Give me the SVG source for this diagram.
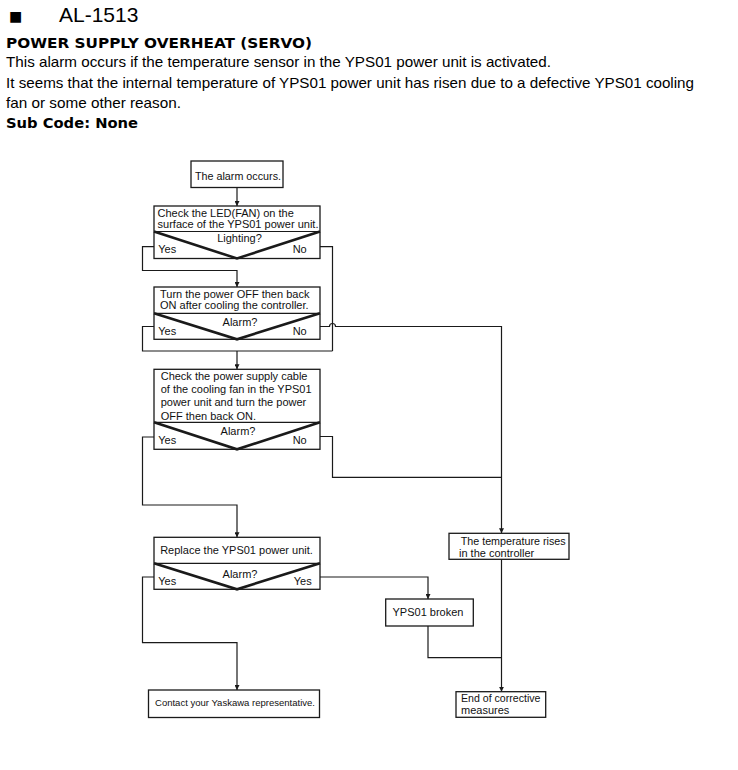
<svg xmlns="http://www.w3.org/2000/svg" width="738" height="770" viewBox="0 0 738 770">
<style>
.box{fill:#fff;stroke:#1a1a1a;stroke-width:1.3}
.v{fill:none;stroke:#1a1a1a;stroke-width:2.6;stroke-linejoin:miter}
.dv{stroke:#1a1a1a;stroke-width:1.2}
.c{fill:none;stroke:#1a1a1a;stroke-width:1.2}
.t{font-family:"Liberation Sans",Arial,sans-serif;font-size:11px;fill:#111}
.m{text-anchor:middle}
.e{text-anchor:end}
.h{font-family:"Liberation Sans",Arial,sans-serif;font-size:15px;fill:#000}
.b{font-family:"DejaVu Sans",sans-serif;font-weight:bold;font-size:14px;fill:#000}
</style>
<defs>
<marker id="ah" viewBox="0 0 6 6" refX="6" refY="3" markerWidth="5" markerHeight="5" markerUnits="userSpaceOnUse" orient="auto">
<path d="M0,0 L6,3 L0,6 z" fill="#1a1a1a"/>
</marker>
</defs>

<g id="header">
<text x="9" y="21" style="font-family:'DejaVu Sans',sans-serif;font-size:14px">■</text>
<text x="59" y="21.7" style="font-family:'Liberation Sans',Arial,sans-serif;font-size:21px">AL-1513</text>
<text x="6" y="47.7" class="b" textLength="306" lengthAdjust="spacingAndGlyphs">POWER SUPPLY OVERHEAT (SERVO)</text>
<text x="6" y="67" class="h" textLength="545" lengthAdjust="spacingAndGlyphs">This alarm occurs if the temperature sensor in the YPS01 power unit is activated.</text>
<text x="6" y="87.5" class="h" textLength="688" lengthAdjust="spacingAndGlyphs">It seems that the internal temperature of YPS01 power unit has risen due to a defective YPS01 cooling</text>
<text x="6" y="108" class="h" textLength="175" lengthAdjust="spacingAndGlyphs">fan or some other reason.</text>
<text x="6" y="127.7" class="b" textLength="132" lengthAdjust="spacingAndGlyphs">Sub Code: None</text>
</g>

<g id="connectors">
<path class="c" d="M237,187 V206" marker-end="url(#ah)"/>
<path class="c" d="M154,246.7 H142.5 V270.5 H237 V287" marker-end="url(#ah)"/>
<path class="c" d="M320,246.7 H332.5 V351"/>
<path class="c" d="M154,326.5 H142.5 V351 H332.5"/>
<path class="c" d="M237,351 V369.3" marker-end="url(#ah)"/>
<path class="c" d="M320,326.5 H329.5 A3,3 0 0 1 335.5,326.5 H501.5 V533.3" marker-end="url(#ah)"/>
<path class="c" d="M154,437 H142.5 V505 H237 V537.3" marker-end="url(#ah)"/>
<path class="c" d="M320,436.5 H332.5 V477.3 H501.5"/>
<path class="c" d="M154,577 H142.5 V642.7 H237 V690" marker-end="url(#ah)"/>
<path class="c" d="M320,577 H428 V599" marker-end="url(#ah)"/>
<path class="c" d="M428,626 V657.7 H501.5"/>
<path class="c" d="M501.5,559.3 V691.7" marker-end="url(#ah)"/>
</g>

<g id="n1">
<rect class="box" x="191" y="161" width="92" height="26.5"/>
<text class="t" x="195" y="180" textLength="86" lengthAdjust="spacingAndGlyphs">The alarm occurs.</text>
</g>

<g id="n2">
<rect class="box" x="154" y="206" width="166" height="52.5"/>
<line class="dv" x1="154" y1="231.5" x2="320" y2="231.5"/>
<path class="v" d="M154,231.5 L237,258.5 L320,231.5"/>
<text class="t" x="157.5" y="217.3">Check the LED(FAN) on the</text>
<text class="t" x="157.5" y="228.3" textLength="161" lengthAdjust="spacingAndGlyphs">surface of the YPS01 power unit.</text>
<text class="t m" x="239.5" y="241.5">Lighting?</text>
<text class="t" x="158.3" y="253.3">Yes</text>
<text class="t e" x="306.7" y="253.3">No</text>
</g>

<g id="n3">
<rect class="box" x="154" y="287" width="166" height="52.3"/>
<line class="dv" x1="154" y1="313.3" x2="320" y2="313.3"/>
<path class="v" d="M154,313.3 L237,339.3 L320,313.3"/>
<text class="t" x="160" y="298.3">Turn the power OFF then back</text>
<text class="t" x="160" y="309.3">ON after cooling the controller.</text>
<text class="t m" x="240" y="326">Alarm?</text>
<text class="t" x="158.3" y="335">Yes</text>
<text class="t e" x="306.7" y="335">No</text>
</g>

<g id="n4">
<rect class="box" x="154" y="369.3" width="166" height="80"/>
<line class="dv" x1="154" y1="422.3" x2="320" y2="422.3"/>
<path class="v" d="M154,422.3 L237,449.3 L320,422.3"/>
<text class="t" x="160.7" y="380.2">Check the power supply cable</text>
<text class="t" x="160.7" y="393.3">of the cooling fan in the YPS01</text>
<text class="t" x="160.7" y="406.4">power unit and turn the power</text>
<text class="t" x="160.7" y="419.5">OFF then back ON.</text>
<text class="t m" x="238" y="435">Alarm?</text>
<text class="t" x="158.3" y="444">Yes</text>
<text class="t e" x="306.7" y="444">No</text>
</g>

<g id="n5">
<rect class="box" x="154" y="537.3" width="166" height="52"/>
<line class="dv" x1="154" y1="563.3" x2="320" y2="563.3"/>
<path class="v" d="M154,563.3 L237,589.3 L320,563.3"/>
<text class="t m" x="236.5" y="554">Replace the YPS01 power unit.</text>
<text class="t m" x="240" y="577.5">Alarm?</text>
<text class="t" x="158.3" y="585">Yes</text>
<text class="t e" x="311.7" y="585">Yes</text>
</g>

<g id="n6">
<rect class="box" x="148.5" y="690" width="171" height="27.5"/>
<text class="t" x="155" y="706" style="font-size:9.5px" textLength="160" lengthAdjust="spacingAndGlyphs">Contact your Yaskawa representative.</text>
</g>

<g id="n7">
<rect class="box" x="449" y="533.3" width="120" height="26"/>
<text class="t" x="460.7" y="545" textLength="105" lengthAdjust="spacingAndGlyphs">The temperature rises</text>
<text class="t" x="459" y="557">in the controller</text>
</g>

<g id="n8">
<rect class="box" x="385.7" y="599" width="87.6" height="27"/>
<text class="t m" x="428" y="616.3">YPS01 broken</text>
</g>

<g id="n9">
<rect class="box" x="456" y="691.7" width="89.7" height="25.6"/>
<text class="t" x="461" y="702.2" textLength="79.5" lengthAdjust="spacingAndGlyphs">End of corrective</text>
<text class="t" x="461" y="714">measures</text>
</g>
</svg>
